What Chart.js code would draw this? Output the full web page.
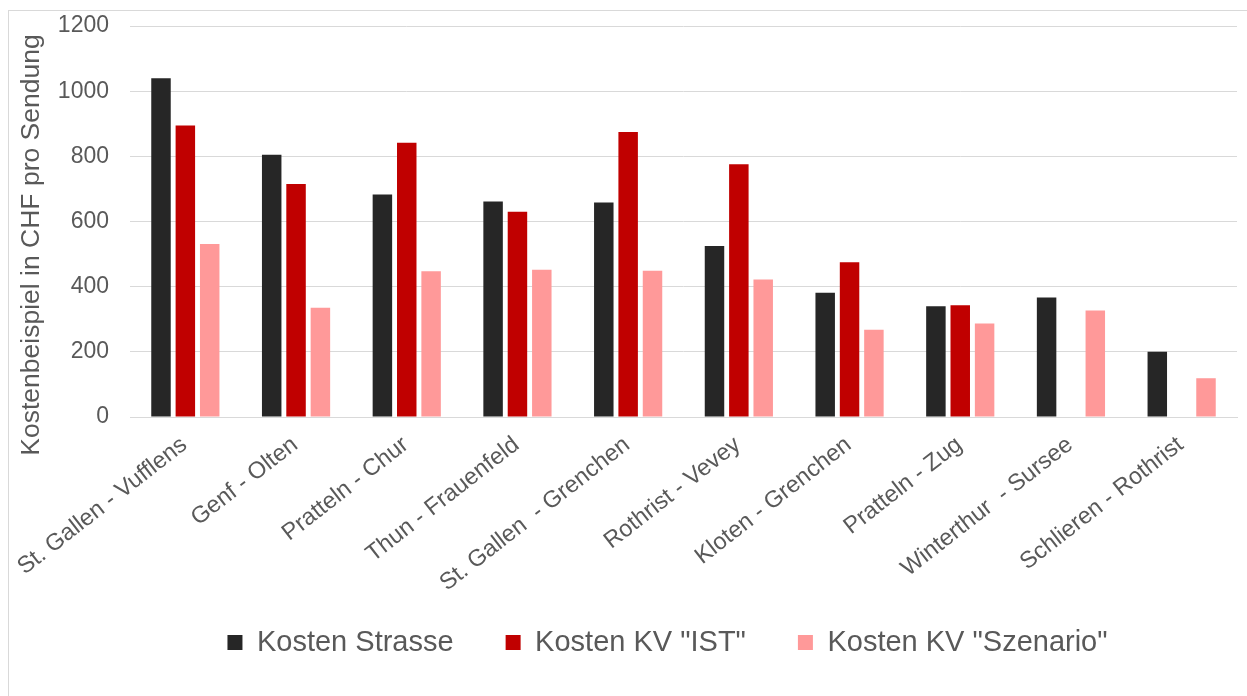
<!DOCTYPE html>
<html>
<head>
<meta charset="utf-8">
<script src="https://cdn.jsdelivr.net/npm/chart.js@4"></script>
<style>
    html, body { margin: 0; padding: 0; background: #ffffff; overflow: hidden; }
    #frame {
        position: absolute; left: 8px; top: 10px;
        width: 1260px; height: 720px;
        border: 1px solid #d9d9d9;
    }
    #wrap { position: absolute; left: 0; top: 0; width: 1247px; height: 696px; }
</style>
</head>
<body>
<div id="frame"></div>
<div id="wrap"><canvas id="costChart"></canvas></div>
<script>
// Routes and cost per shipment (CHF)
const routes = [
    'St. Gallen - Vufflens', 'Genf - Olten', 'Pratteln - Chur', 'Thun - Frauenfeld',
    'St. Gallen  - Grenchen', 'Rothrist - Vevey', 'Kloten - Grenchen', 'Pratteln - Zug',
    'Winterthur  - Sursee', 'Schlieren - Rothrist'
];
const kostenStrasse = [1040, 805, 683, 661, 658, 525, 381, 340, 367, 200];
const kostenKvIst = [895, 715, 842, 630, 875, 776, 475, 343, null, null];
const kostenKvSzenario = [531, 335, 447, 452, 449, 422, 268, 287, 327, 119];
const yTicks = [0, 200, 400, 600, 800, 1000, 1200];

const axisTitle = 'Kostenbeispiel in CHF pro Sendung';
const textColor = '#595959';
const fontFamily = "'Liberation Sans', Arial, sans-serif";

// y axis title, drawn by hand so it sits a bit lower than the plot centre
const yTitlePlugin = {
    id: 'yTitle',
    afterDraw(chart) {
        const ctx = chart.ctx;
        ctx.save();
        ctx.translate(39, 245);
        ctx.rotate(-Math.PI / 2);
        ctx.font = '26.5px ' + fontFamily;
        ctx.fillStyle = textColor;
        ctx.textAlign = 'center';
        ctx.textBaseline = 'alphabetic';
        ctx.fillText(axisTitle, 0, 0);
        ctx.restore();
    }
};

// the legend gets wide item spacing; move its box so the row lands
// right under the route labels and a little right of centre
const legendNudge = {
    id: 'legendNudge',
    afterLayout(chart) {
        const lg = chart.legend;
        const dx = 20, dy = -29;
        lg.left += dx; lg.right += dx;
        lg.top += dy; lg.bottom += dy;
    }
};

function barSet(label, data, color) {
    return {
        label: label,
        data: data,
        backgroundColor: color,
        borderWidth: 0,
        categoryPercentage: 0.66,
        barPercentage: 0.8
    };
}

window.addEventListener('load', function() {
    const ctx = document.getElementById('costChart').getContext('2d');
    new Chart(ctx, {
        type: 'bar',
        data: {
            labels: routes,
            datasets: [
                barSet('Kosten Strasse', kostenStrasse, '#262626'),
                barSet('Kosten KV "IST"', kostenKvIst, '#c00000'),
                barSet('Kosten KV "Szenario"', kostenKvSzenario, '#ff9999')
            ]
        },
        options: {
            responsive: true,
            maintainAspectRatio: false,
            animation: false,
            layout: {
                padding: { left: 58, right: 10, top: 26, bottom: 0 }
            },
            scales: {
                x: {
                    grid: { display: false },
                    border: { display: true, color: '#d9d9d9', width: 1 },
                    afterFit: function(axis) { axis.height = 188; },
                    ticks: {
                        color: textColor,
                        autoSkip: false,
                        minRotation: 38,
                        maxRotation: 38,
                        padding: 6,
                        labelOffset: -1,
                        font: { family: fontFamily, size: 23.5 }
                    }
                },
                y: {
                    min: 0,
                    max: 1200,
                    afterBuildTicks: function(axis) {
                        axis.ticks = yTicks.map(v => ({ value: v }));
                    },
                    afterFit: function(axis) {
                        axis.width = 72;
                        axis.paddingTop = 0;
                        axis.paddingBottom = 0;
                    },
                    grid: { color: '#d9d9d9', lineWidth: 1, drawTicks: false },
                    border: { display: false },
                    ticks: {
                        color: textColor,
                        padding: 21,
                        font: { family: fontFamily, size: 23 },
                        callback: function(value) { return String(value); }
                    }
                }
            },
            plugins: {
                legend: {
                    position: 'bottom',
                    labels: {
                        color: textColor,
                        boxWidth: 15,
                        boxHeight: 15,
                        padding: 52,
                        font: { family: fontFamily, size: 29 }
                    }
                },
                tooltip: { enabled: false }
            }
        },
        plugins: [yTitlePlugin, legendNudge]
    });
});
</script>
</body>
</html>
